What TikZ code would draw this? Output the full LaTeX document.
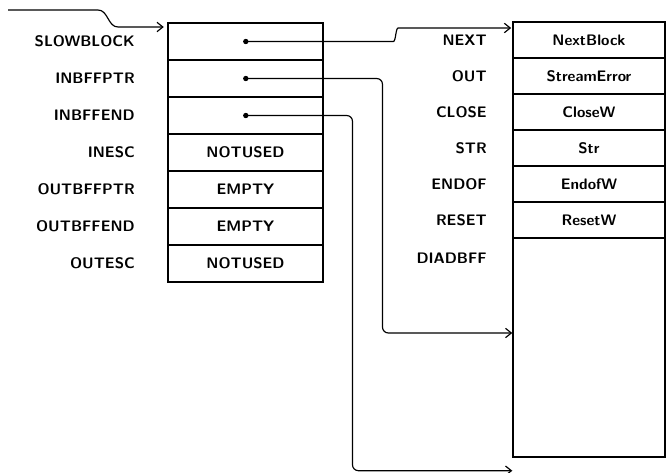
\documentclass[tikz,border=0pt]{standalone}
\usetikzlibrary{arrows.meta}
\begin{document}
\begin{tikzpicture}[
    x=0.03cm, y=-0.03cm,
    every node/.append style={font=\sffamily\bfseries\fontsize{13}{15}\selectfont},  % hand lettering -> bold sans
    cell/.style={draw, line width=1.2pt, minimum width=4.65cm, minimum height=1.11cm, inner sep=0pt},
    rcell/.style={draw, line width=1.2pt, minimum width=4.56cm, minimum height=1.08cm, inner sep=0pt},
    field/.style={anchor=east, inner sep=0pt},
    ptr/.style={draw, line width=1pt, rounded corners=5pt, shorten <=-2pt, {Circle[length=4.5pt]}-{Straight Barb[length=5pt,width=8pt]}},
    feed/.style={draw, line width=1pt, -{Straight Barb[length=5pt,width=8pt]}},
]
\useasboundingbox (0,0) rectangle (667,473);

% stream block
\node[cell] (slow)   at (245.5,41.5)  {};
\node[cell] (inptr)  at (245.5,78.5)  {};
\node[cell] (inend)  at (245.5,115.5) {};
\node[cell] (inesc)  at (245.5,152.5) {NOTUSED};
\node[cell] (outptr) at (245.5,189.5) {EMPTY};
\node[cell] (outend) at (245.5,226.5) {EMPTY};
\node[cell] (outesc) at (245.5,263.5) {NOTUSED};

\node[field] (lslow)   at (135,41.5)  {SLOWBLOCK};
\node[field] (linptr)  at (135,78.5)  {INBFFPTR};
\node[field] (linend)  at (135,115.5) {INBFFEND};
\node[field] (linesc)  at (135,152.5) {INESC};
\node[field] (loutptr) at (135,189.5) {OUTBFFPTR};
\node[field] (loutend) at (135,226.5) {OUTBFFEND};
\node[field] (loutesc) at (135,263.5) {OUTESC};

% slow block
\node[rcell] (next)  at (589,40)  {NextBlock};
\node[rcell] (out)   at (589,76)  {StreamError};
\node[rcell] (close) at (589,112) {CloseW};
\node[rcell] (str)   at (589,148) {Str};
\node[rcell] (endof) at (589,184) {EndofW};
\node[rcell] (reset) at (589,220) {ResetW};
\node[rcell, minimum height=6.57cm] (diad) at (589,347.5) {};

\node[field] (lnext)  at (487,40)  {NEXT};
\node[field] (lout)   at (487,76)  {OUT};
\node[field] (lclose) at (487,112) {CLOSE};
\node[field] (lstr)   at (487,148) {STR};
\node[field] (lendof) at (487,184) {ENDOF};
\node[field] (lreset) at (487,220) {RESET};
\node[field] (ldiad)  at (487,258) {DIADBFF};

% pointers
\coordinate (entry) at (8,10);
\coordinate (ebend) at (118,27);
\coordinate (nbend) at (404,28);
\draw[feed] (entry) -- ++(90,0) to[out=0,in=180] (ebend) -- ([xshift=-3pt]ebend -| slow.west);
\draw[ptr] (slow.center) -- ++(142,0) to[out=0,in=180] (nbend) -- ([xshift=-1pt]nbend -| next.west);
\draw[ptr] (inptr.center) -- ++(137,0) |- ([yshift=0.435cm]diad.west);
\draw[ptr] (inend.center) -- ++(107,0) |- ([yshift=-0.39cm]diad.south west);

\end{tikzpicture}
\end{document}
